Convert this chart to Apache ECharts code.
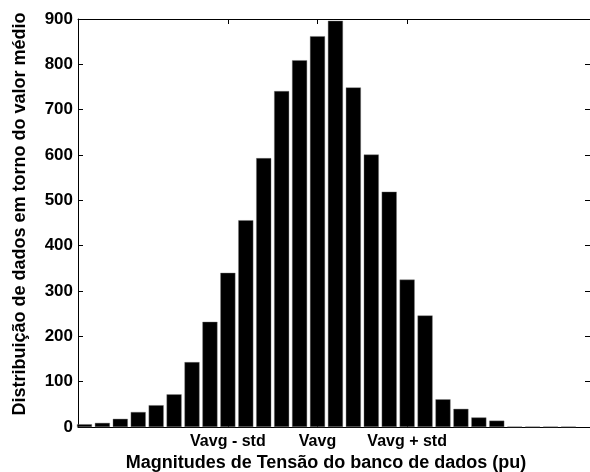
<!DOCTYPE html>
<html>
<head>
<meta charset="utf-8">
<script src="https://cdn.jsdelivr.net/npm/echarts@6/dist/echarts.min.js"></script>
<style>
  html, body { margin: 0; padding: 0; background: #fff; }
  #chart { width: 590px; height: 472px; }
</style>
</head>
<body>
<div id="chart"></div>
<script>
// Histogram bins (index of each bin along the voltage axis)
const binIndex = [1, 2, 3, 4, 5, 6, 7, 8, 9, 10, 11, 12, 13, 14,
                  15, 16, 17, 18, 19, 20, 21, 22, 23, 24, 25, 26, 27, 28];
// Count of samples falling in each bin
const binCounts = [6, 9, 18, 33, 48, 72, 143, 232, 340, 456, 593, 741, 809, 862,
                   896, 749, 601, 519, 325, 246, 61, 40, 21, 14, 1, 1, 1, 1];
// Labelled positions on the horizontal axis
const xTickPositions = [9, 14, 19];
const xTickLabels = ['Vavg - std', 'Vavg', 'Vavg + std'];
// Vertical axis range
const yMin = 0, yMax = 900, yStep = 100;

const FONT = '"Liberation Sans", Arial, Helvetica, sans-serif';
const labelFor = {};
xTickPositions.forEach((p, i) => { labelFor[p] = xTickLabels[i]; });

const chart = echarts.init(document.getElementById('chart'), null, { renderer: 'canvas' });

const xRange = { min: 0.64, max: 29.2 };
const lineStyle = { color: '#000', width: 1 };

chart.setOption({
  animation: false,
  backgroundColor: '#fff',
  grid: { left: 78, top: 19, right: -1, bottom: 45, containLabel: false },
  xAxis: [
    {
      type: 'value', position: 'bottom', ...xRange,
      axisLine: { show: true, onZero: false, lineStyle },
      splitLine: { show: false },
      axisTick: { show: true, inside: true, length: 5, lineStyle, customValues: xTickPositions },
      axisLabel: {
        show: true, customValues: xTickPositions, margin: 7,
        formatter: v => labelFor[v] || '',
        color: '#000', fontFamily: FONT, fontWeight: 'bold', fontSize: 16
      }
    },
    {
      type: 'value', position: 'top', ...xRange,
      axisLine: { show: true, onZero: false, lineStyle },
      splitLine: { show: false },
      axisTick: { show: true, inside: true, length: 5, lineStyle, customValues: xTickPositions },
      axisLabel: { show: false }
    }
  ],
  yAxis: [
    {
      type: 'value', position: 'left', min: yMin, max: yMax, interval: yStep,
      axisLine: { show: true, lineStyle },
      splitLine: { show: false },
      axisTick: { show: true, inside: true, length: 5, lineStyle },
      axisLabel: {
        margin: 5, color: '#000', fontFamily: FONT, fontWeight: 'bold', fontSize: 17
      }
    },
    {
      type: 'value', position: 'right', min: yMin, max: yMax, interval: yStep,
      axisLine: { show: true, lineStyle },
      splitLine: { show: false },
      axisTick: { show: true, inside: true, length: 5, lineStyle },
      axisLabel: { show: false }
    }
  ],
  series: [{
    type: 'bar',
    xAxisIndex: 0, yAxisIndex: 0,
    data: binIndex.map((b, i) => [b, binCounts[i]]),
    barWidth: 15,
    itemStyle: { color: '#000', borderColor: '#777', borderWidth: 0.4 },
    z: 1
  }],
  graphic: [
    {
      type: 'text', x: 326, y: 463,
      style: {
        text: 'Magnitudes de Tensão do banco de dados (pu)',
        x: 0, y: 0, textAlign: 'center', textVerticalAlign: 'middle',
        fill: '#000', font: 'bold 18px ' + FONT
      }
    },
    {
      type: 'text', x: 20, y: 214, rotation: Math.PI / 2,
      style: {
        text: 'Distribuição de dados em torno do valor médio',
        x: 0, y: 0, textAlign: 'center', textVerticalAlign: 'middle',
        fill: '#000', font: 'bold 18px ' + FONT
      }
    }
  ]
});
</script>
</body>
</html>
